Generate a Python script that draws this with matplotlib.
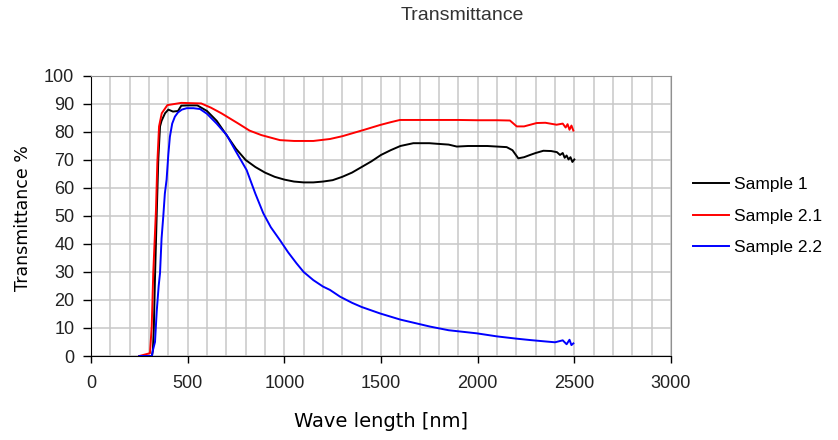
import matplotlib
matplotlib.use('Agg')
import matplotlib.pyplot as plt
from matplotlib.ticker import MultipleLocator

plt.rcParams['font.family'] = ['Liberation Sans', 'DejaVu Sans']

# Sample 1 (black)
nm1 = [250, 315, 320, 325, 331, 340, 348, 357, 365, 383, 400, 424, 450, 467, 500, 550,
       600, 650, 700, 750, 800, 850, 900, 950, 1000, 1050, 1100, 1150, 1200, 1250,
       1300, 1350, 1400, 1450, 1500, 1550, 1600, 1667, 1750, 1788, 1850, 1892, 1950,
       2000, 2050, 2100, 2150, 2180, 2210, 2240, 2271, 2300, 2340, 2380, 2410, 2426,
       2440, 2450, 2460, 2470, 2480, 2490, 2500]
t1 = [0, 0, 2, 10, 28, 51, 70, 82, 84, 86.7, 88, 87.3, 87.5, 89.4, 89.5, 89.5,
      87.5, 84, 79, 74, 70, 67.5, 65.5, 64, 63, 62.3, 62, 62, 62.3, 62.8,
      64, 65.5, 67.5, 69.5, 71.8, 73.5, 75, 76, 76, 75.8, 75.5, 74.8, 75,
      75, 75, 74.8, 74.6, 73.5, 70.6, 71, 71.8, 72.5, 73.3, 73.2, 72.8, 71.8,
      72.5, 70.8, 71.6, 70.2, 71, 69.3, 70.2]

# Sample 2.1 (red)
nm2 = [250, 305, 314, 322, 336, 343, 352, 366, 395, 467, 570, 620, 674, 760, 820, 881,
       977, 1050, 1150, 1236, 1300, 1409, 1495, 1550, 1598, 1700, 1800, 1900, 2000,
       2100, 2167, 2202, 2240, 2305, 2350, 2408, 2440, 2455, 2465, 2475, 2485, 2495]
t2 = [0, 1, 10.5, 29.6, 52, 68.8, 82, 86.7, 89.6, 90.4, 90.2, 88.7, 86.7, 83.1, 80.5, 78.9,
      77.1, 76.8, 76.8, 77.5, 78.5, 80.7, 82.5, 83.5, 84.3, 84.3, 84.3, 84.3, 84.2,
      84.2, 84.1, 82, 82, 83.2, 83.3, 82.6, 83, 81.6, 82.8, 80.8, 82.3, 80.5]

# Sample 2.2 (blue)
nm3 = [250, 315, 320, 331, 340, 350, 357, 365, 374, 382, 391, 400, 408, 420, 434, 450,
       470, 495, 530, 564, 600, 650, 702, 750, 805, 850, 891, 930, 977, 1020, 1063,
       1100, 1150, 1200, 1236, 1288, 1350, 1400, 1495, 1600, 1754, 1850, 1995, 2100,
       2200, 2271, 2350, 2400, 2440, 2460, 2475, 2485, 2495]
t3 = [0, 0, 2, 5, 16, 25, 29.6, 42, 50, 58, 63, 72, 78.3, 83, 85.5, 87,
      88, 88.5, 88.5, 88.2, 86.5, 83, 78.9, 73, 66.4, 58, 51, 46, 41.4, 37, 33.1,
      30, 27.1, 24.8, 23.6, 21.2, 19, 17.5, 15.2, 13, 10.5, 9.2, 8.1, 7,
      6.2, 5.7, 5.2, 4.9, 5.6, 4.2, 5.8, 3.9, 4.5]

fig = plt.figure(figsize=(8.38, 4.4), dpi=100)
ax = fig.add_axes([91 / 838, 84 / 440, 580 / 838, 280 / 440])

ax.plot(nm1, t1, color='black', lw=1.4, label='Sample 1')
ax.plot(nm2, t2, color='#ff0000', lw=1.4, label='Sample 2.1')
ax.plot(nm3, t3, color='#0000ff', lw=1.4, label='Sample 2.2')

ax.set_xlim(0, 3000)
ax.set_ylim(0, 100)
ax.xaxis.set_major_locator(MultipleLocator(500))
ax.xaxis.set_minor_locator(MultipleLocator(100))
ax.yaxis.set_major_locator(MultipleLocator(10))
ax.grid(which='both', color='#c8c8c8', lw=1.1)
ax.tick_params(axis='x', which='minor', length=0)
ax.tick_params(axis='x', which='major', labelsize=13, length=5, width=1, pad=9, labelcolor='#222222')
ax.tick_params(axis='y', which='major', labelsize=13, length=6, width=1, pad=6, labelcolor='#222222')
ax.set_axisbelow(True)
for s in ['top', 'right']:
    ax.spines[s].set_color('#909090')
for s in ['left', 'bottom']:
    ax.spines[s].set_color('black')

ax.set_xlabel('Wave length [nm]', fontsize=14, family='DejaVu Sans')
ax.set_ylabel('Transmittance %', fontsize=12.5, family='DejaVu Sans')
ax.xaxis.set_label_coords(0.5, (356 - 412) / 280)
ax.yaxis.set_label_coords((32 - 91) / 580, 0.493)
fig.text(462 / 838, 1 - 15 / 440, 'Transmittance', ha='center', va='center', fontsize=14, color='#333333')

fig.legend(loc='center left', bbox_to_anchor=(677 / 838, 1 - 216 / 440), frameon=False,
           fontsize=12.5, handlelength=2.1, handletextpad=0.3, labelspacing=0.95)

fig.savefig('out.png', dpi=100)
